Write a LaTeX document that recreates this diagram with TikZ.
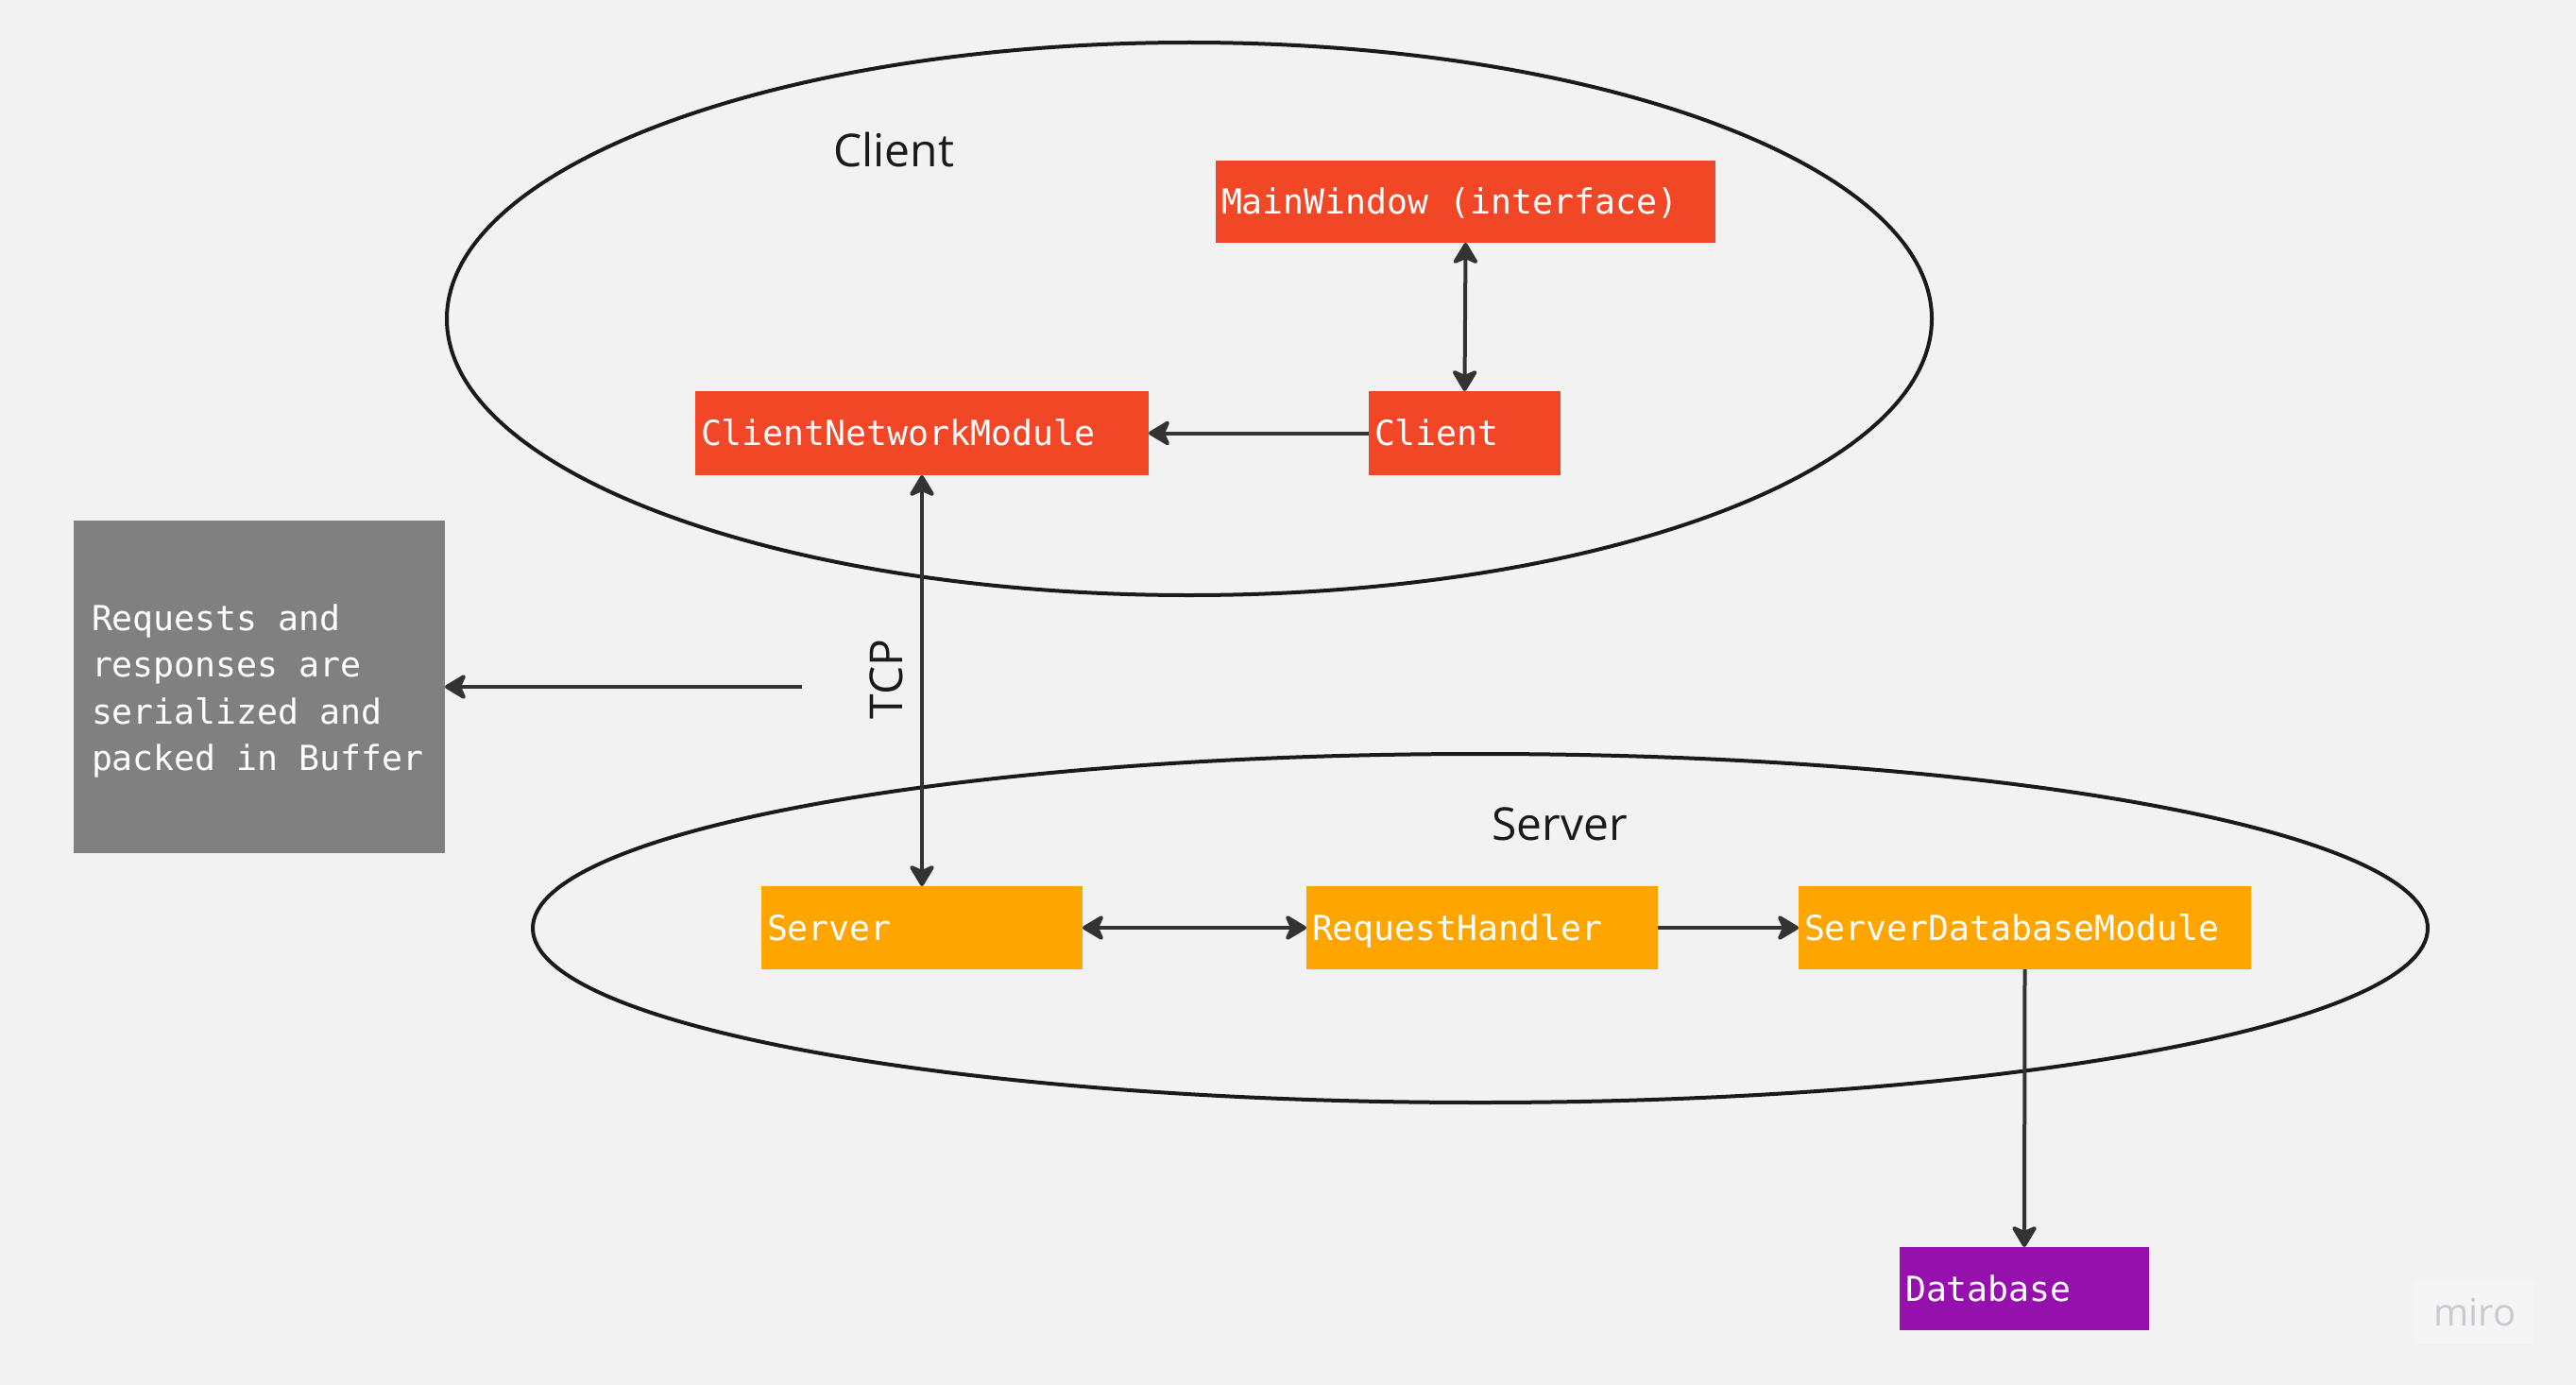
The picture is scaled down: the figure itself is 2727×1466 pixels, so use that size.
\documentclass[tikz,border=0pt]{standalone}
\usepackage{fontspec}
\setmainfont{Open Sans}
\newfontfamily\monof{DejaVu Sans Mono}
\usetikzlibrary{arrows.meta}
\definecolor{bgc}{HTML}{F2F2F2}
\definecolor{redc}{HTML}{F24726}
\definecolor{orangec}{HTML}{FFA500}
\definecolor{purplec}{HTML}{9510AC}
\definecolor{grayc}{HTML}{808080}
\definecolor{linec}{HTML}{333333}
\definecolor{ellc}{HTML}{1A1A1A}
\definecolor{miroc}{HTML}{C9C9D3}
\definecolor{mirobg}{HTML}{F5F5F5}
\newcommand\fixsp{\spaceskip=0pt\xspaceskip=0pt\relax}
\tikzset{
  boxn/.style={anchor=north west, inner xsep=6pt, inner ysep=0pt, outer sep=0pt,
    font=\monof\fontsize{36.5}{49.5}\selectfont, text=white, align=left},
  oneline/.style={text height=26.6pt, text depth=0pt},
  arr/.style={draw=linec, line width=4pt},
  lbl/.style={font=\fontsize{48}{56}\selectfont, text=ellc},
  ell/.style={draw=ellc, line width=4pt},
  >={Stealth[length=26pt,width=31pt,inset=7pt,round]}
}
\begin{document}
\begin{tikzpicture}[x=1pt,y=-1pt]
\fill[bgc] (0,0) rectangle (2727,1466);
\useasboundingbox (0,0) rectangle (2727,1466);

% ellipses
\draw[ell] (1259,337.5) ellipse [x radius=786, y radius=292.5];
\draw[ell] (1567,982.5) ellipse [x radius=1003, y radius=184.5];

% labels
\node[lbl, anchor=base] (clientlbl) at (946,177) {Client};
\node[lbl, anchor=base] (serverlbl) at (1651,889) {Server};
\node[lbl, anchor=base, rotate=90] (tcplbl) at (955,719) {TCP};

% client boxes
\node[boxn, oneline, fill=redc, minimum width=529pt, minimum height=87pt, text width=517pt] (mw) at (1287,170) {\fixsp MainWindow (interface)};
\node[boxn, oneline, fill=redc, minimum width=480pt, minimum height=89pt, text width=468pt] (cnm) at (736,414) {\fixsp ClientNetworkModule};
\node[boxn, oneline, fill=redc, minimum width=203pt, minimum height=89pt, text width=191pt] (cl) at (1449,414) {\fixsp Client};

% note
\node[boxn, fill=grayc, inner xsep=19pt, minimum width=393pt, minimum height=352pt, text width=355pt] (note) at (78,551) {\fixsp\rule{0pt}{37pt}Requests and\\responses are\\serialized and\\packed in Buffer};

% server boxes
\node[boxn, oneline, fill=orangec, minimum width=340pt, minimum height=88pt, text width=328pt] (srv) at (806,938) {\fixsp Server};
\node[boxn, oneline, fill=orangec, minimum width=372pt, minimum height=88pt, text width=360pt] (rh) at (1383,938) {\fixsp RequestHandler};
\node[boxn, oneline, fill=orangec, minimum width=479pt, minimum height=88pt, text width=467pt] (sdm) at (1904,938) {\fixsp ServerDatabaseModule};
\node[boxn, oneline, fill=purplec, minimum width=264pt, minimum height=88pt, text width=252pt] (db) at (2011,1320) {\fixsp Database};

% miro mark
\fill[mirobg] (2556,1356) rectangle (2683,1423);
\node[font=\fontsize{40}{46}\selectfont, text=miroc, anchor=center] (miro) at (2620,1389) {miro};

% connectors
\draw[arr,<->] (mw.south) -- (cl.north);
\draw[arr,->] (cl.west) -- (cnm.east);
\draw[arr,<->] (cnm.south) -- (srv.north);
\coordinate (tcpsrc) at (849,727);
\draw[arr,->] (tcpsrc) -- (note.east |- tcpsrc);
\draw[arr,<->] (srv.east) -- (rh.west);
\draw[arr,->] (rh.east) -- (sdm.west);
\draw[arr,->] (sdm.south) -- (db.north);
\end{tikzpicture}
\end{document}
